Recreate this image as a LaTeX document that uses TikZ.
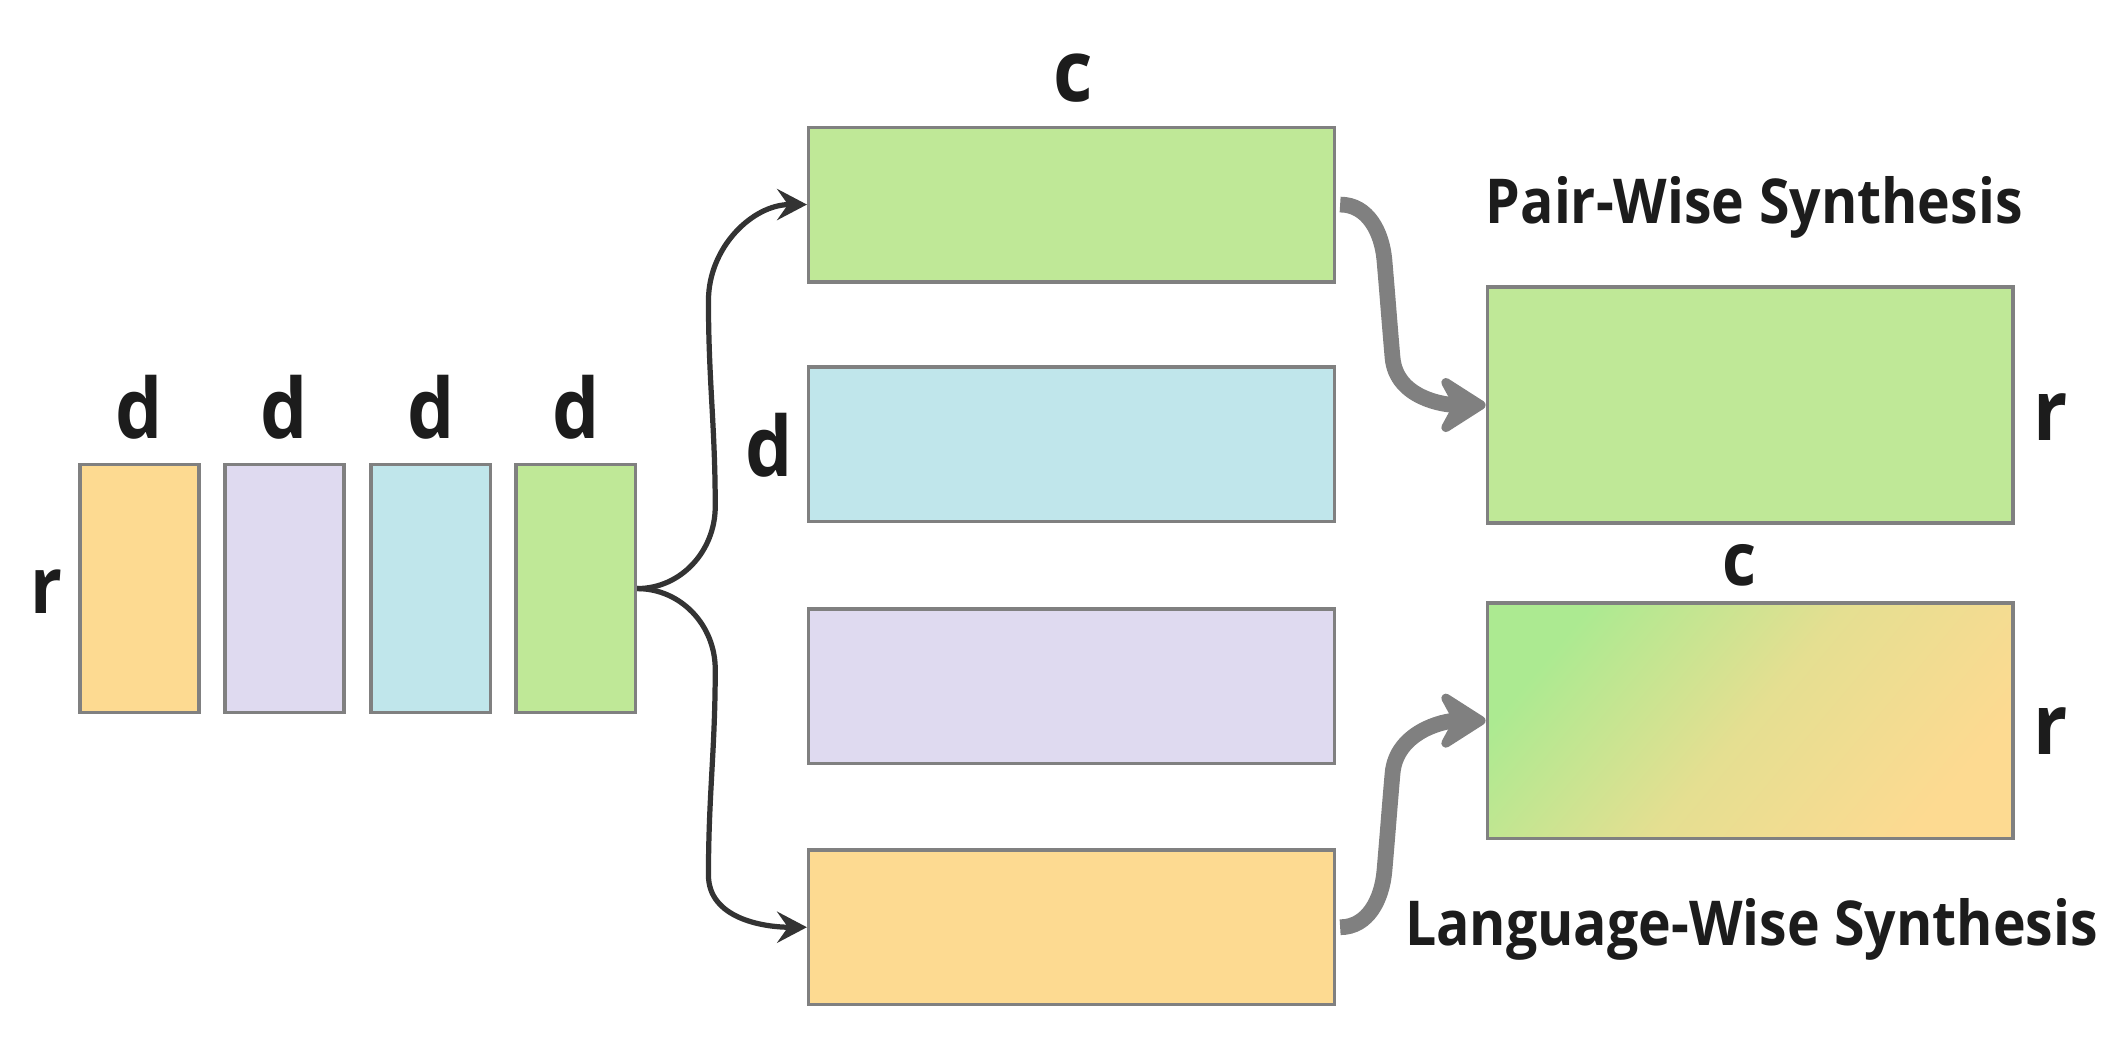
\documentclass[tikz,border=0pt]{standalone}
\usepackage{fontspec}
\setmainfont{Open Sans}[FakeStretch=0.895]
\usepackage{tikz}
\usetikzlibrary{arrows.meta}

\definecolor{cOrange}{RGB}{253,218,145}
\definecolor{cLav}{RGB}{223,218,240}
\definecolor{cBlue}{RGB}{192,230,235}
\definecolor{cGreen}{RGB}{191,232,151}
\definecolor{cLime}{RGB}{172,234,145}
\definecolor{cEdge}{RGB}{128,128,128}
\definecolor{cInk}{RGB}{28,28,28}
\definecolor{cWire}{RGB}{51,51,51}

\begin{document}
\begin{tikzpicture}[
  blk/.style={draw=cEdge, line width=0.75pt, inner sep=0pt},
  col/.style={blk, minimum width=0.88cm, minimum height=1.83cm},
  row/.style={blk, minimum width=3.88cm, minimum height=1.14cm},
  big/.style={blk, minimum width=3.88cm, minimum height=1.74cm},
  lbl/.style={anchor=base, text=cInk, font=\bfseries, inner sep=0pt},
  split/.style={draw=cWire, line width=1.1pt, -{Stealth[length=2.2mm, width=2.3mm, inset=0.8mm]}},
  merge/.style={draw=cEdge, line width=3.3pt, -{Stealth[length=4.1mm, width=5.2mm, inset=1.4mm, round]}}
]
\useasboundingbox (0,0) rectangle (15.68,7.84);

\node[col, fill=cOrange] (l1) at (1.03,3.495) {};
\node[col, fill=cLav]    (l2) at (2.10,3.495) {};
\node[col, fill=cBlue]   (l3) at (3.18,3.495) {};
\node[col, fill=cGreen]  (l4) at (4.25,3.495) {};
\node[lbl, font=\fontsize{17.5}{20}\bfseries] (dl1) at (1.03,4.60) {d};
\node[lbl, font=\fontsize{17.5}{20}\bfseries] (dl2) at (2.10,4.60) {d};
\node[lbl, font=\fontsize{17.5}{20}\bfseries] (dl3) at (3.18,4.60) {d};
\node[lbl, font=\fontsize{17.5}{20}\bfseries] (dl4) at (4.25,4.60) {d};
\node[lbl, font=\fontsize{16.5}{19}\bfseries] (rl) at (0.34,3.31) {r};

\node[row, fill=cGreen]  (m1) at (7.91,6.33) {};
\node[row, fill=cBlue]   (m2) at (7.91,4.56) {};
\node[row, fill=cLav]    (m3) at (7.91,2.775) {};
\node[row, fill=cOrange] (m4) at (7.91,0.995) {};
\node[lbl, font=\fontsize{18}{21}\bfseries] (cm) at (7.92,7.09) {c};
\node[lbl, font=\fontsize{17.5}{20}\bfseries] (dm) at (5.68,4.32) {d};

\node[big, fill=cGreen] (pw) at (12.92,4.85) {};
\node[big, top color=cLime, bottom color=cOrange, middle color=cOrange!70!cLime, shading angle=50] (lw) at (12.92,2.52) {};
\node[lbl, font=\fontsize{17.7}{20}\bfseries] (rpw) at (15.14,4.59) {r};
\node[lbl, font=\fontsize{17.7}{20}\bfseries] (rlw) at (15.14,2.27) {r};
\node[lbl, font=\fontsize{15.5}{18}\bfseries] (clw) at (12.84,3.52) {c};
\node[lbl, font=\fontsize{13}{16}\bfseries] (tpw) at (12.95,6.19) {Pair-Wise Synthesis};
\node[lbl, font=\fontsize{13}{16}\bfseries] (tlw) at (12.93,0.86) {Language-Wise Synthesis};

\draw[split] (l4.east) to[out=0,in=-90] (5.28,4.10) to[out=90,in=-90] (5.23,5.62) to[out=90,in=180] (m1.west);
\draw[split] (l4.east) to[out=0,in=90] (5.28,2.90) to[out=-90,in=90] (5.23,1.38) to[out=-90,in=180] (m4.west);

\draw[merge] ([xshift=0.03cm]m1.east) to[out=0,in=95] (10.22,5.92) to[out=-85,in=95] (10.28,5.20) to[out=-85,in=180] (pw.west);
\draw[merge] ([xshift=0.03cm]m4.east) to[out=0,in=-95] (10.22,1.41) to[out=85,in=-95] (10.28,2.13) to[out=85,in=180] (lw.west);
\end{tikzpicture}
\end{document}
